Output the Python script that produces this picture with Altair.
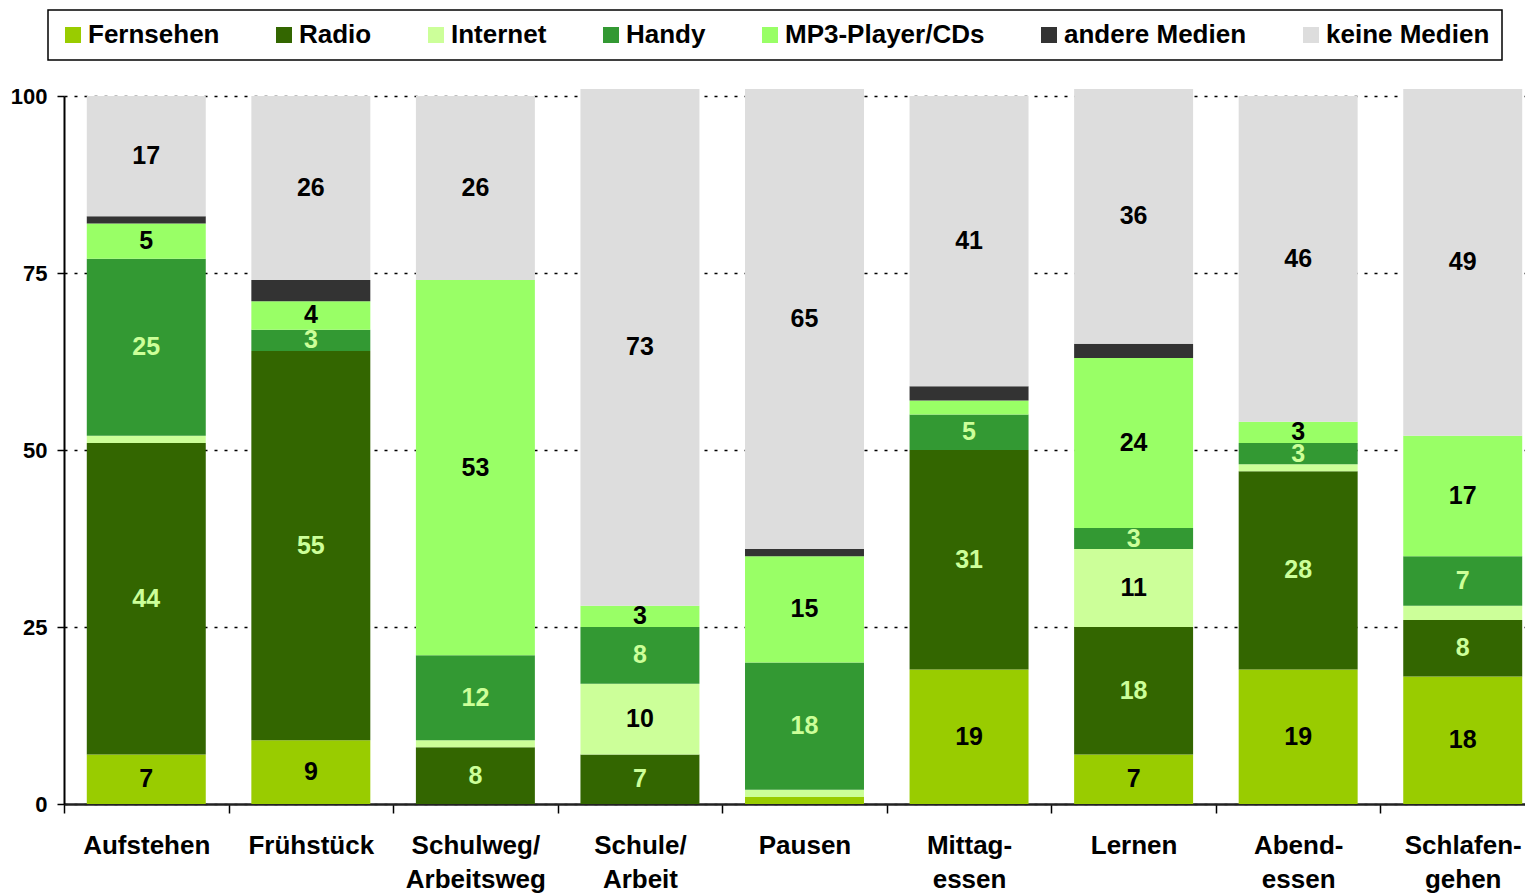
import altair as alt
import pandas as pd

FONT = "Liberation Sans"

categories = ["Aufstehen", "Frühstück", "Schulweg/|Arbeitsweg", "Schule/|Arbeit", "Pausen",
              "Mittag-|essen", "Lernen", "Abend-|essen", "Schlafen-|gehen"]
series = ["Fernsehen", "Radio", "Internet", "Handy", "MP3-Player/CDs", "andere Medien", "keine Medien"]
colors = ["#99CC00", "#336600", "#CCFF99", "#339933", "#99FF66", "#333333", "#DDDDDD"]

fernsehen = [7, 9, 0, 0, 1, 19, 7, 19, 18]
radio = [44, 55, 8, 7, 0, 31, 18, 28, 8]
internet = [1, 0, 1, 10, 1, 0, 11, 1, 2]
handy = [25, 3, 12, 8, 18, 5, 3, 3, 7]
mp3 = [5, 4, 53, 3, 15, 2, 24, 3, 17]
andere = [1, 3, 0, 0, 1, 2, 2, 0, 0]
keine = [17, 26, 26, 73, 65, 41, 36, 46, 49]

y_ticks = [0, 25, 50, 75, 100]

values = [fernsehen, radio, internet, handy, mp3, andere, keine]
rows = []
for si, (s, vals) in enumerate(zip(series, values)):
    for c, v in zip(categories, vals):
        rows.append({"cat": c, "series": s, "sidx": si, "value": v})
df = pd.DataFrame(rows)

STEP = 164.6
x_enc = alt.X(
    "cat:N", sort=categories,
    scale=alt.Scale(paddingInner=0.277, paddingOuter=0.1385, range=[0, 1481]),
    axis=alt.Axis(
        title=None, labelAngle=0, labelExpr="datum.value ? split(datum.value, '|') : ''",
        labelFont=FONT, labelFontSize=26, labelFontWeight="bold", labelColor="black",
        labelLineHeight=34, labelPadding=19, tickOffset=-STEP / 2, labelOffset=STEP / 2,
        tickSize=9, tickColor="black", tickWidth=1.5, domainColor="#222222", domainWidth=2.5,
        grid=False,
    ),
)

y_axis = alt.Axis(
    title=None, values=y_ticks, labelFont=FONT, labelFontSize=22, labelFontWeight="bold",
    labelColor="black", labelPadding=10, tickSize=7, tickColor="black", tickWidth=1.5,
    domainColor="black", domainWidth=2, grid=True, gridColor="black", gridDash=[3, 7],
    gridWidth=1.5,
)

base = alt.Chart(df)

bars = base.mark_bar(stroke=None).encode(
    x=x_enc,
    y=alt.Y("value:Q", stack="zero", scale=alt.Scale(domain=[0, 100], nice=False), axis=y_axis),
    color=alt.Color(
        "series:N", sort=series, scale=alt.Scale(domain=series, range=colors),
        legend=alt.Legend(
            title=None, orient="none", legendX=-16, legendY=-86, direction="horizontal",
            columns=7, columnPadding=51, symbolType="square", symbolSize=256,
            symbolStrokeWidth=0, labelOffset=2, labelFont=FONT, labelFontSize=26,
            labelFontWeight="bold", labelColor="black", labelLimit=400, padding=12,
            strokeColor="black",
        ),
    ),
    order=alt.Order("sidx:Q", sort="ascending"),
)

labels = base.transform_stack(
    stack="value", as_=["y0", "y1"], groupby=["cat"],
    sort=[alt.SortField("sidx", order="ascending")],
).transform_calculate(
    mid="(datum.y0 + datum.y1) / 2"
).transform_filter(
    "datum.value >= 3 && datum.series != 'andere Medien'"
).mark_text(font=FONT, fontSize=25, fontWeight="bold", baseline="middle", align="center").encode(
    x=alt.X("cat:N", sort=categories),
    y=alt.Y("mid:Q"),
    text=alt.Text("value:Q"),
    color=alt.condition(
        "datum.series == 'Radio' || datum.series == 'Handy'",
        alt.value("#CCFF99"), alt.value("black"),
    ),
)

chart = alt.layer(bars, labels).properties(
    width=1461, height=708,
    autosize=alt.AutoSizeParams(type="none"),
    padding={"left": 56, "top": 88, "right": 0, "bottom": 89},
).configure_view(stroke=None).configure_legend(strokeWidth=1.5)

chart.save("out.html", embed_options={"renderer": "svg", "actions": False})
